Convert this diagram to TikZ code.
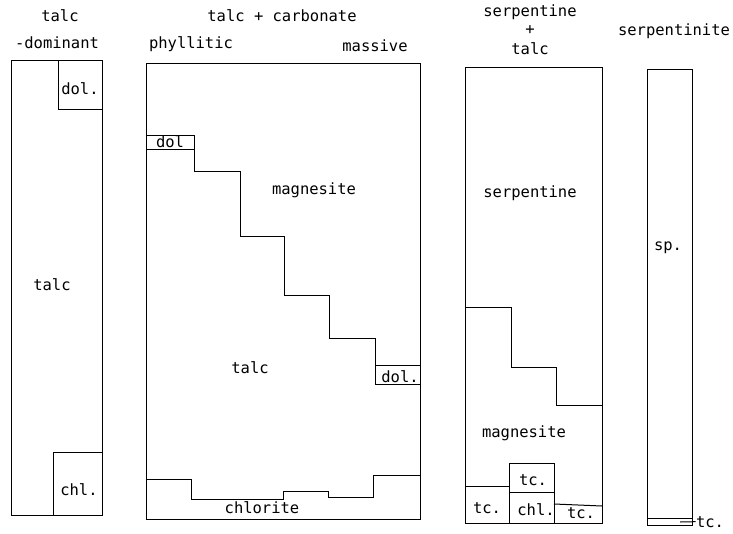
\documentclass[tikz,border=0pt]{standalone}
\usepackage{fontspec}
\newfontfamily\monofam{DejaVu Sans Mono}
\begin{document}
\begin{tikzpicture}[x=1pt,y=-1pt,line width=1pt,
  lbl/.style={font=\monofam\fontsize{15.5}{18}\selectfont,inner sep=0pt,anchor=base},
  edge/.style={line join=miter}]
\useasboundingbox (0,0) rectangle (733,533);
\fill[white] (0,0) rectangle (733,533);

% ---------- headings ----------
\node[lbl] (h1a) at (60,21) {talc};
\node[lbl] (h1b) at (57,48) {-dominant};
\node[lbl] (h2a) at (282,21) {talc + carbonate};
\node[lbl] (h2b) at (191,48) {phyllitic};
\node[lbl] (h2c) at (375,51) {massive};
\node[lbl] (h3a) at (530,16) {serpentine};
\node[lbl] (h3b) at (530,34) {+};
\node[lbl] (h3c) at (530,54) {talc};
\node[lbl] (h4a) at (674,35) {serpentinite};

% ---------- column 1 : talc-dominant ----------
\draw[edge] (11,60) rectangle (102,515);
\draw[edge] (58,60) -- (58,109) -- (102,109);
\draw[edge] (53,515) -- (53,452) -- (102,452);
\node[lbl] (c1dol) at (80,94) {dol.};
\node[lbl] (c1talc) at (52,290) {talc};
\node[lbl] (c1chl) at (79,495) {chl.};

% ---------- column 2 : talc + carbonate ----------
\draw[edge] (146,63) rectangle (420,519);
\draw[edge] (146,135) -- (194,135) -- (194,171) -- (240,171) -- (240,236)
  -- (284,236) -- (284,295) -- (329,295) -- (329,338) -- (375,338)
  -- (375,384) -- (420,384);
\draw[edge] (146,149) -- (194,149);
\draw[edge] (375,365) -- (420,365);
\draw[edge] (146,479) -- (191,479) -- (191,499) -- (283,499) -- (283,491)
  -- (328,491) -- (328,497) -- (373,497) -- (373,475) -- (420,475);
\node[lbl] (c2dol) at (170,147) {dol};
\node[lbl] (c2mag) at (314,194) {magnesite};
\node[lbl] (c2talc) at (250,373) {talc};
\node[lbl] (c2dol2) at (400,382) {dol.};
\node[lbl] (c2chl) at (262,513) {chlorite};

% ---------- column 3 : serpentine + talc ----------
\draw[edge] (465,67) rectangle (602,523);
\draw[edge] (465,307) -- (511,307) -- (511,367) -- (556,367) -- (556,405) -- (602,405);
\draw[edge] (509,523) -- (509,463) -- (554,463) -- (554,523);
\draw[edge] (509,492) -- (554,492);
\draw[edge] (465,486) -- (509,486);
\draw[edge] (554,504) -- (602,506);
\node[lbl] (c3serp) at (530,197) {serpentine};
\node[lbl] (c3mag) at (524,437) {magnesite};
\node[lbl] (c3tc1) at (533,485) {tc.};
\node[lbl] (c3chl) at (536,515) {chl.};
\node[lbl] (c3tc2) at (487,513) {tc.};
\node[lbl] (c3tc3) at (581,518) {tc.};

% ---------- column 4 : serpentinite ----------
\draw[edge] (647,69) rectangle (692,525);
\draw[edge] (647,518) -- (692,518);
\node[lbl] (c4sp) at (668,250) {sp.};
\node[lbl] (c4tc) at (710,527) {tc.};
\coordinate (c4layer) at (680,522);
\draw (c4layer) -- (c4tc.west);
\end{tikzpicture}
\end{document}
